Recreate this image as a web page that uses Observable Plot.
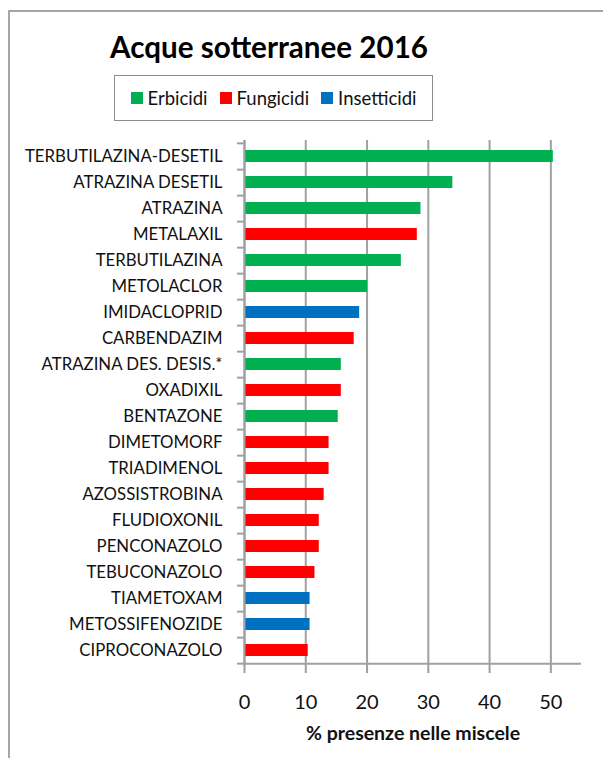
<!DOCTYPE html>
<html>
<head>
<meta charset="utf-8">
<script src="https://cdn.jsdelivr.net/npm/d3@7"></script>
<script src="https://cdn.jsdelivr.net/npm/@observablehq/plot@0.6"></script>
<style>
  html, body { margin: 0; padding: 0; background: #fff; }
  body { width: 603px; height: 758px; overflow: hidden; position: relative; font-family: Lato, "Open Sans", sans-serif; }
  #border { position: absolute; left: 8px; top: 10px; width: 700px; height: 800px; border: 2px solid #a6a6a6; box-sizing: border-box; }
  #title { position: absolute; left: 0; width: 538px; top: 29px; text-align: center; font-weight: bold; font-size: 29.6px; line-height: 36px; color: #000; }
  #legend { position: absolute; left: 114px; top: 75px; width: 319px; height: 46px; border: 1.5px solid #8c8c8c; box-sizing: border-box; display: flex; align-items: center; justify-content: center; font-size: 18.5px; color: #111; }
  #legend .item { display: flex; align-items: center; margin: 0 6px; }
  #legend .sw { width: 12px; height: 12px; margin-right: 5px; }
  #chart { position: absolute; left: 0; top: 130px; }
  #chart svg { display: block; }
</style>
</head>
<body>
<div id="border"></div>
<div id="title">Acque sotterranee 2016</div>
<div id="legend"></div>
<div id="chart"></div>
<script>
const categories = [
  "TERBUTILAZINA-DESETIL", "ATRAZINA DESETIL", "ATRAZINA", "METALAXIL", "TERBUTILAZINA",
  "METOLACLOR", "IMIDACLOPRID", "CARBENDAZIM", "ATRAZINA DES. DESIS.*", "OXADIXIL",
  "BENTAZONE", "DIMETOMORF", "TRIADIMENOL", "AZOSSISTROBINA", "FLUDIOXONIL",
  "PENCONAZOLO", "TEBUCONAZOLO", "TIAMETOXAM", "METOSSIFENOZIDE", "CIPROCONAZOLO"
];
const values = [50.4, 34.0, 28.8, 28.2, 25.6, 20.1, 18.8, 17.9, 15.8, 15.8,
                15.3, 13.8, 13.8, 13.0, 12.2, 12.2, 11.5, 10.7, 10.7, 10.4];
const types = ["Erbicidi", "Erbicidi", "Erbicidi", "Fungicidi", "Erbicidi",
               "Erbicidi", "Insetticidi", "Fungicidi", "Erbicidi", "Fungicidi",
               "Erbicidi", "Fungicidi", "Fungicidi", "Fungicidi", "Fungicidi",
               "Fungicidi", "Fungicidi", "Insetticidi", "Insetticidi", "Fungicidi"];
const typeDomain = ["Erbicidi", "Fungicidi", "Insetticidi"];
const typeColors = ["#00b050", "#ff0000", "#0070c0"];
const xTicks = [0, 10, 20, 30, 40, 50];

const data = categories.map((c, i) => ({name: c, value: values[i], type: types[i]}));

const W = 603, H = 628;
const mt = 10, mb = 92;
const step = (H - mt - mb) / categories.length;
const gridColor = "#a0a0a0";

const chart = Plot.plot({
  width: W, height: H,
  marginLeft: 244, marginRight: 22, marginTop: mt, marginBottom: mb,
  style: {fontFamily: "Lato, 'Open Sans', sans-serif", color: "#000", background: "transparent"},
  x: {domain: [0, 55]},
  y: {domain: categories, paddingInner: 0.54, paddingOuter: 0.27},
  color: {domain: typeDomain, range: typeColors},
  marks: [
    Plot.gridX(xTicks, {stroke: gridColor, strokeOpacity: 1, strokeWidth: 2}),
    Plot.barX(data, {x: "value", y: "name", fill: "type"}),
    Plot.ruleX([0], {stroke: gridColor, strokeWidth: 2}),
    Plot.ruleY([categories[categories.length - 1]], {x1: 0, x2: 55, dy: step / 2, stroke: gridColor, strokeWidth: 2}),
    Plot.axisY({tickSize: 7, tickFormat: () => "", stroke: gridColor, strokeWidth: 2, dy: step / 2, label: null}),
    Plot.axisY([categories[0]], {tickSize: 7, tickFormat: () => "", stroke: gridColor, strokeWidth: 2, dy: -step / 2, label: null}),
    Plot.axisY({tickSize: 0, tickPadding: 22, fontSize: 16.8, fill: "#111", label: null}),
    Plot.axisX(xTicks, {tickSize: 7, stroke: gridColor, strokeWidth: 2, tickPadding: 21, fontSize: 20, fill: "#111",
      label: "% presenze nelle miscele", labelAnchor: "center", labelArrow: "none", labelOffset: 73})
  ]
});
chart.querySelectorAll("text").forEach(t => {
  if (t.textContent.includes("presenze")) { t.setAttribute("font-weight", "bold"); t.setAttribute("font-size", 19.5); }
});
document.getElementById("chart").appendChild(chart);

// legend built from the same domain / colours
const legend = document.getElementById("legend");
typeDomain.forEach((t, i) => {
  const item = document.createElement("div");
  item.className = "item";
  const sw = document.createElement("span");
  sw.className = "sw";
  sw.style.background = typeColors[i];
  const lab = document.createElement("span");
  lab.textContent = t;
  item.appendChild(sw); item.appendChild(lab);
  legend.appendChild(item);
});
</script>
</body>
</html>
